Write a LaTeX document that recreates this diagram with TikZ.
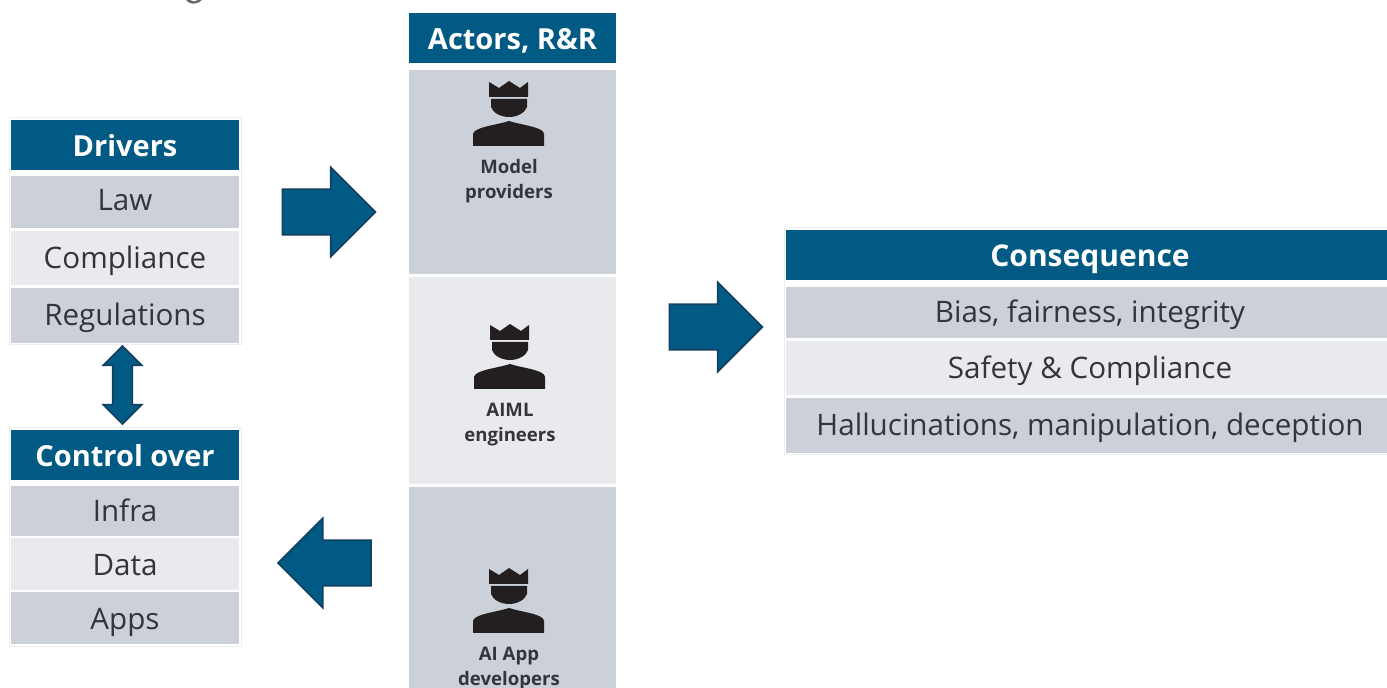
\documentclass[tikz,border=0pt]{standalone}
\usepackage{fontspec}
\setmainfont{Open Sans}
\usetikzlibrary{shapes.arrows}
\definecolor{headblue}{HTML}{005A84}
\definecolor{rowdark}{HTML}{CBD0D9}
\definecolor{rowlight}{HTML}{E8EAEE}
\definecolor{edgeblue}{HTML}{123F5F}
\definecolor{inktext}{HTML}{33353A}
\definecolor{iconink}{HTML}{231F20}
\definecolor{rim}{HTML}{ECEDF0}
\tikzset{
  rowbase/.style={inner sep=0pt,text=inktext,font=\fontsize{14.8}{16}\selectfont,text height=10.5pt,text depth=0pt},
  headrow/.style={rowbase,fill=headblue,text=white,text height=11.5pt,font=\fontsize{14.5}{16}\selectfont\bfseries},
  darkrow/.style={rowbase,fill=rowdark},
  lightrow/.style={rowbase,fill=rowlight},
  leftcol/.style={minimum width=114pt},
  midcol/.style={minimum width=103.5pt},
  rightcol/.style={minimum width=304pt},
  actorname/.style={inner sep=0pt,align=center,text=inktext,font=\fontsize{9.3}{12.5}\selectfont\bfseries},
  blockarrow/.style={single arrow,fill=headblue,draw=edgeblue,line width=0.8pt,inner sep=11pt,
    single arrow head extend=11pt,single arrow head indent=0pt,minimum height=46.5pt},
  bothways/.style={double arrow,fill=headblue,draw=edgeblue,line width=0.8pt,inner sep=4.5pt,
    double arrow head extend=4.75pt,double arrow head indent=0pt,minimum height=39pt,shape border rotate=90},
  pics/actoricon/.style={code={
    \fill[iconink] (-20,-32) -- (-20,-17) -- (19,-17) -- (19,-32) -- (11,-26) -- (0,-33) -- (-10,-26) -- cycle;
    \fill[iconink] (-18,-15) -- (18,-15) -- (18,-7) .. controls (16,-1) and (8,3) .. (0,3) .. controls (-8,3) and (-16,-1) .. (-18,-7) -- cycle;
    \fill[iconink] (-36,32) -- (-36,20) .. controls (-35,13) and (-12,11) .. (0,7) .. controls (12,11) and (35,13) .. (35,20) -- (35,32) -- cycle;
  }}
}
\begin{document}
\begin{tikzpicture}[x=0.5pt,y=-0.5pt]
  \useasboundingbox (0,0) rectangle (1387,688);
  \clip (0,0) rectangle (1387,688);

  \fill[gray!80!black] (186,0) .. controls (190,5) and (196,5) .. (202,0) -- (198,0) .. controls (195,2) and (192,2) .. (190,0) -- cycle;

  \draw[rim,line width=0.5pt] (9,118) rectangle (241,345);
  \draw[rim,line width=0.5pt] (9,428) rectangle (241,647);
  \draw[rim,line width=0.5pt] (784,228) rectangle (1390,455);

  % drivers
  \node[headrow,leftcol,minimum height=25pt] (drivers) at (125,145) {Drivers};
  \node[darkrow,leftcol,minimum height=26pt,text depth=2pt] (law) at (125,202) {Law};
  \node[lightrow,leftcol,minimum height=27pt] (compliance) at (125,258) {Compliance};
  \node[darkrow,leftcol,minimum height=27.5pt] (regulations) at (125,315.5) {Regulations};

  % control
  \node[headrow,leftcol,minimum height=25pt] (control) at (125,455) {Control over};
  \node[darkrow,leftcol,minimum height=25pt] (infra) at (125,511) {Infra};
  \node[lightrow,leftcol,minimum height=26pt,text height=11.5pt] (data) at (125,564) {Data};
  \node[darkrow,leftcol,minimum height=26pt,text height=11.5pt] (apps) at (125,618.5) {Apps};

  % actors
  \node[headrow,midcol,minimum height=25pt] (actors) at (512.5,38.5) {Actors, R\&R};
  \node[darkrow,midcol,minimum height=102pt] (providers) at (512.5,172) {};
  \node[lightrow,midcol,minimum height=103.5pt] (engineers) at (512.5,380.5) {};
  \node[darkrow,midcol,minimum height=104pt] (developers) at (512.5,591) {};
  \pic at (509,114) {actoricon};
  \pic at (510,357) {actoricon};
  \pic at (509,601) {actoricon};
  \node[actorname] (providerstext) at (509,181) {Model\\providers};
  \node[actorname] (engineerstext) at (510,425) {AIML\\engineers};
  \node[actorname] (developerstext) at (509,669) {AI App\\developers};

  % consequence
  \node[headrow,rightcol,minimum height=25pt,font=\fontsize{15}{16}\selectfont\bfseries] (consequence) at (1090,255) {Consequence};
  \node[darkrow,rightcol,minimum height=25.5pt] (bias) at (1090,312.5) {Bias, fairness, integrity};
  \node[lightrow,rightcol,minimum height=27pt] (safety) at (1090,368) {Safety \& Compliance};
  \node[darkrow,rightcol,minimum height=27.5pt] (halluc) at (1090,425.5) {Hallucinations, manipulation, deception};

  % arrows
  \node[blockarrow] (toactors) at (317.5,212) {};
  \node[blockarrow] (toconsequence) at (704.5,327) {};
  \node[blockarrow,shape border rotate=180] (tocontrol) at (336,563) {};
  \node[bothways] (linkleft) at (122.5,385) {};
\end{tikzpicture}
\end{document}
